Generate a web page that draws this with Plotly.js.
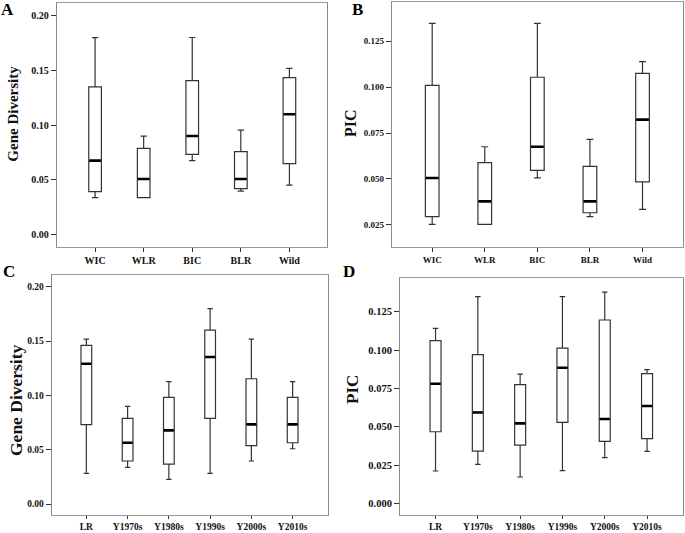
<!DOCTYPE html>
<html>
<head>
<meta charset="utf-8">
<script src="https://cdn.plot.ly/plotly-3.0.1.min.js"></script>
<style>html,body{margin:0;padding:0;background:#fff;}#chart{width:685px;height:533px;}</style>
</head>
<body>
<div id="chart"></div>
<script>
// ---- Data ----
const catsAB = ['WIC', 'WLR', 'BIC', 'BLR', 'Wild'];
const catsCD = ['LR', 'Y1970s', 'Y1980s', 'Y1990s', 'Y2000s', 'Y2010s'];

// Panel A: Gene Diversity
const A_low = [0.0335, 0.0335, 0.0674, 0.0396, 0.0451];
const A_q1  = [0.0390, 0.0335, 0.0732, 0.0418, 0.0646];
const A_med = [0.0674, 0.0506, 0.0899, 0.0506, 0.1098];
const A_q3  = [0.1348, 0.0787, 0.1405, 0.0756, 0.1433];
const A_up  = [0.1799, 0.0899, 0.1800, 0.0954, 0.1518];

// Panel B: PIC
const B_low = [0.0252, 0.0252, 0.0505, 0.0294, 0.0334];
const B_q1  = [0.0294, 0.0252, 0.0546, 0.0315, 0.0483];
const B_med = [0.0505, 0.0377, 0.0675, 0.0377, 0.0823];
const B_q3  = [0.1010, 0.0588, 0.1054, 0.0568, 0.1075];
const B_up  = [0.1348, 0.0675, 0.1348, 0.0715, 0.1139];

// Panel C: Gene Diversity
const C_low = [0.0282, 0.0337, 0.0227, 0.0282, 0.0396, 0.0509];
const C_q1  = [0.0730, 0.0396, 0.0368, 0.0788, 0.0537, 0.0564];
const C_med = [0.1291, 0.0564, 0.0678, 0.1353, 0.0733, 0.0733];
const C_q3  = [0.1460, 0.0788, 0.0982, 0.1601, 0.1153, 0.0982];
const C_up  = [0.1518, 0.0899, 0.1126, 0.1798, 0.1518, 0.1126];

// Panel D: PIC
const D_low = [0.0211, 0.0254, 0.0172, 0.0213, 0.0298, 0.0339];
const D_q1  = [0.0467, 0.0341, 0.0380, 0.0528, 0.0404, 0.0422];
const D_med = [0.0780, 0.0593, 0.0522, 0.0885, 0.0550, 0.0635];
const D_q3  = [0.1061, 0.0970, 0.0774, 0.1013, 0.1196, 0.0846];
const D_up  = [0.1141, 0.1348, 0.0843, 0.1348, 0.1378, 0.0872];

const ticksGD = [0, 0.05, 0.10, 0.15, 0.20];
const ticksPIC_B = [0.025, 0.050, 0.075, 0.100, 0.125];
const ticksPIC_D = [0, 0.025, 0.050, 0.075, 0.100, 0.125];

// ---- Build ----
const W = 685, H = 533;
const FONT = 'Liberation Serif, Times New Roman, serif';
const BOXW = 0.26;

function idx(c) { return c.map((_, i) => i); }

function panel(cats, low, q1, med, q3, up, xa, ya) {
  const xs = idx(cats);
  const box = {
    type: 'box', x: xs, q1: q1, median: med, q3: q3,
    lowerfence: low, upperfence: up,
    width: BOXW, whiskerwidth: 0.5, boxpoints: false,
    fillcolor: '#ffffff', line: {color: '#333333', width: 1.2},
    xaxis: xa, yaxis: ya, showlegend: false, hoverinfo: 'skip'
  };
  const mx = [], my = [];
  xs.forEach((x, i) => { mx.push(x - BOXW / 2 + 0.01, x + BOXW / 2 - 0.01, null); my.push(med[i], med[i], null); });
  const medTrace = {
    type: 'scatter', mode: 'lines', x: mx, y: my,
    line: {color: '#000', width: 2.6},
    xaxis: xa, yaxis: ya, showlegend: false, hoverinfo: 'skip'
  };
  return [box, medTrace];
}

const data = [].concat(
  panel(catsAB, A_low, A_q1, A_med, A_q3, A_up, 'x', 'y'),
  panel(catsAB, B_low, B_q1, B_med, B_q3, B_up, 'x2', 'y2'),
  panel(catsCD, C_low, C_q1, C_med, C_q3, C_up, 'x3', 'y3'),
  panel(catsCD, D_low, D_q1, D_med, D_q3, D_up, 'x4', 'y4')
);

function px(x) { return x / W; }
function py(y) { return 1 - y / H; }

function xax(cats, left, right, anchor, range, fs, tl) {
  return {
    domain: [px(left), px(right)], anchor: anchor, range: range,
    tickmode: 'array', tickvals: idx(cats), ticktext: cats,
    ticks: 'outside', ticklen: tl, tickcolor: '#333', tickwidth: 1,
    showline: true, mirror: true, linecolor: '#9a9a9a', linewidth: 1,
    showgrid: false, zeroline: false,
    tickfont: {family: FONT, size: fs, color: '#111', weight: 'bold'}
  };
}
function yax(top, bottom, anchor, range, vals, fmt, fs) {
  return {
    domain: [py(bottom), py(top)], anchor: anchor, range: range,
    tickmode: 'array', tickvals: vals, ticktext: vals.map(v => v.toFixed(fmt)),
    ticks: 'outside', ticklen: 5, tickcolor: '#333', tickwidth: 1,
    showline: true, mirror: true, linecolor: '#8a8a8a', linewidth: 1,
    showgrid: false, zeroline: false,
    tickfont: {family: FONT, size: fs, color: '#111', weight: 'bold'}
  };
}

const layout = {
  width: W, height: H,
  margin: {l: 0, r: 0, t: 0, b: 0},
  paper_bgcolor: '#fff', plot_bgcolor: '#fff',
  showlegend: false,
  xaxis:  xax(catsAB, 56.7, 327.3, 'y',  [-0.79, 4.78], 10, 4),
  yaxis:  yax(3.3, 246.7, 'x',  [-0.0113, 0.2113], ticksGD, 2, 10),
  xaxis2: xax(catsAB, 391.7, 683, 'y2', [-0.77, 4.77], 9, 4),
  yaxis2: yax(1.7, 246.7, 'x2', [0.013, 0.1466], ticksPIC_B, 3, 9),
  xaxis3: xax(catsCD, 51.7, 327.7, 'y3', [-0.84, 5.85], 9.5, 3),
  yaxis3: yax(275, 515, 'x3', [-0.0101, 0.2108], ticksGD, 2, 9.5),
  xaxis4: xax(catsCD, 400, 683, 'y4', [-0.84, 5.85], 9.5, 3),
  yaxis4: yax(277.7, 515, 'x4', [-0.0076, 0.1472], ticksPIC_D, 3, 10.5),
  annotations: [
    {text: 'A', x: px(8), y: py(10)},
    {text: 'B', x: px(357), y: py(9)},
    {text: 'C', x: px(9), y: py(271)},
    {text: 'D', x: px(349), y: py(271)},
  ].map(a => Object.assign({xref: 'paper', yref: 'paper', showarrow: false, xanchor: 'center', yanchor: 'middle',
      font: {family: FONT, size: 17, color: '#000', weight: 'bold'}}, a)).concat([
    {text: 'Gene Diversity', x: px(12.7), y: py(114), size: 15},
    {text: 'PIC', x: px(350), y: py(123), size: 16},
    {text: 'Gene Diversity', x: px(16), y: py(400), size: 17.5},
    {text: 'PIC', x: px(352), y: py(390), size: 17},
  ].map(a => ({xref: 'paper', yref: 'paper', showarrow: false, xanchor: 'center', yanchor: 'middle',
      textangle: -90, text: a.text, x: a.x, y: a.y,
      font: {family: FONT, size: a.size, color: '#111', weight: 'bold'}})))
};

Plotly.newPlot('chart', data, layout, {staticPlot: true, displayModeBar: false});
</script>
</body>
</html>
